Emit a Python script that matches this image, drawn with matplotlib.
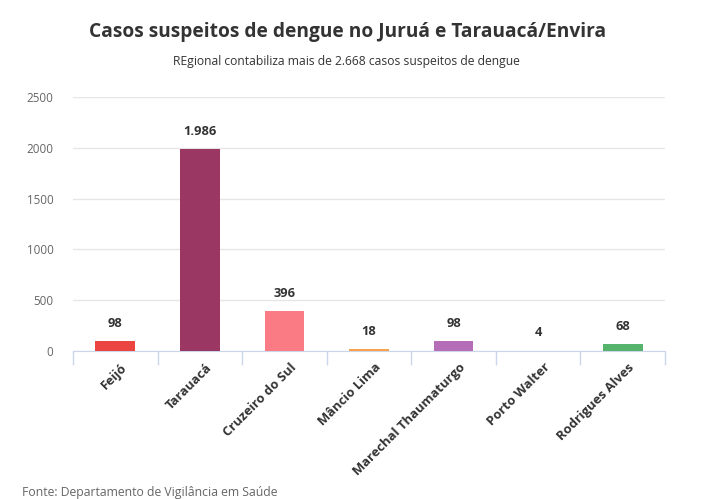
import matplotlib.pyplot as plt
import numpy as np

plt.rcParams["font.family"] = ["Open Sans", "DejaVu Sans"]

# Data
municipios = ["Feijó", "Tarauacá", "Cruzeiro do Sul", "Mâncio Lima",
              "Marechal Thaumaturgo", "Porto Walter", "Rodrigues Alves"]
casos = [98, 1986, 396, 18, 98, 4, 68]
rotulos = ["98", "1.986", "396", "18", "98", "4", "68"]
cores = ["#ea4540", "#9b3763", "#fb7b84", "#f9a24e", "#b56db7", "#e9e9e9", "#55b36c"]
yticks = [0, 500, 1000, 1500, 2000, 2500]

fig = plt.figure(figsize=(7.11, 4.99), dpi=100)
ax = fig.add_axes([0.1027, 0.2966, 0.8326, 0.509])

x = np.arange(len(municipios))
ax.bar(x, casos, width=0.47, color=cores, zorder=3)

for xi, v, lab in zip(x, casos, rotulos):
    ax.annotate(lab, (xi, v), xytext=(0, 8), textcoords="offset points",
                ha="center", va="bottom", fontsize=9.3, fontweight="bold",
                color="#333333")

ax.set_xlim(-0.5, len(municipios) - 0.5)
ax.set_ylim(0, 2500)
ax.set_yticks(yticks)
ax.set_yticklabels([str(t) for t in yticks], fontsize=8.4, color="#666666")
ax.yaxis.grid(True, color="#e6e6e6", linewidth=1)
ax.set_axisbelow(True)
ax.tick_params(axis="y", length=0, pad=14)

# category boundary ticks
ax.set_xticks(np.arange(-0.5, len(municipios)), minor=False)
ax.set_xticklabels([])
ax.tick_params(axis="x", length=10, color="#ccd6eb", width=1)
ax.set_xticks(x + 0.06, minor=True)
ax.set_xticklabels(municipios, minor=True, rotation=45, ha="right",
                   rotation_mode="anchor", fontsize=9.4, fontweight="bold",
                   color="#333333")
ax.tick_params(axis="x", which="minor", length=0, pad=7)

for s in ["top", "right", "left"]:
    ax.spines[s].set_visible(False)
ax.spines["bottom"].set_color("#ccd6eb")

fig.text(0.489, 0.935, "Casos suspeitos de dengue no Juruá e Tarauacá/Envira",
         ha="center", va="center", fontsize=13.8, fontweight="bold", color="#333333")
fig.text(0.487, 0.876, "REgional contabiliza mais de 2.668 casos suspeitos de dengue",
         ha="center", va="center", fontsize=8.7, color="#333333")
fig.text(0.031, 0.0, "Fonte: Departamento de Vigilância em Saúde",
         ha="left", va="bottom", fontsize=8.8, color="#666666")

fig.savefig("out.png", dpi=100)
